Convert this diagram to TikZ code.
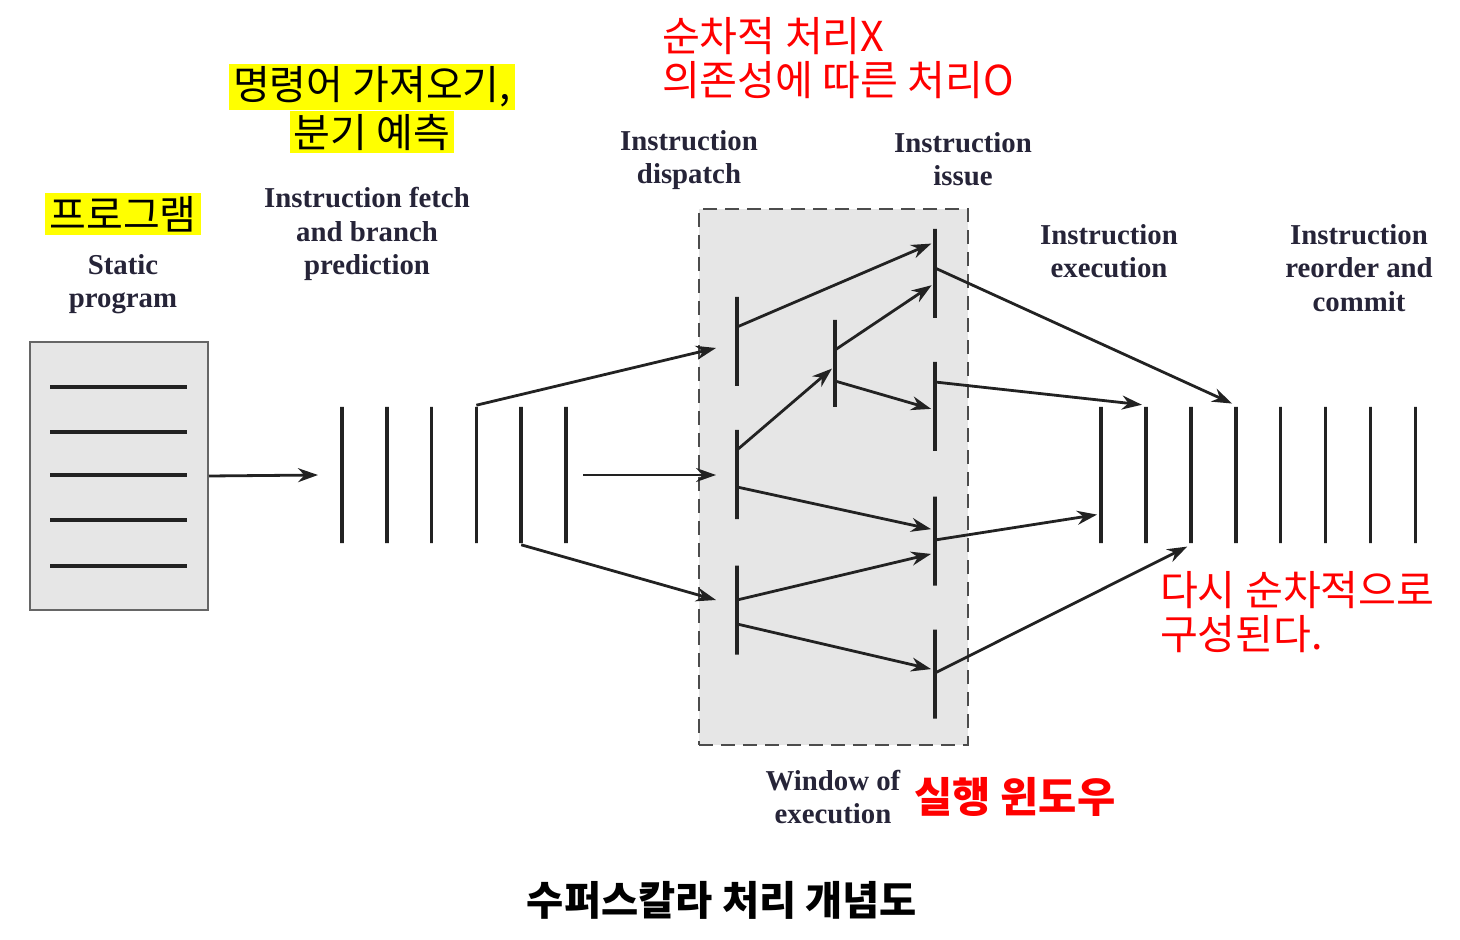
\documentclass[tikz,border=0pt]{standalone}
\usepackage{fontspec}
\setmainfont{Liberation Serif}
\newfontfamily\kr{Noto Sans CJK KR}
\usetikzlibrary{arrows.meta,positioning,calc}
\definecolor{linec}{RGB}{34,34,34}
\definecolor{labelc}{RGB}{38,36,56}
\definecolor{shade}{RGB}{230,230,230}
\definecolor{krred}{RGB}{255,0,0}
\definecolor{hilite}{RGB}{255,255,0}

\begin{document}
\begin{tikzpicture}[x=0.5pt, y=-0.5pt,
  bar/.style={draw=linec, line width=1.8pt, minimum width=0pt,
              minimum height=#1, inner sep=0pt},
  arr/.style={-{Stealth[length=10pt,width=7pt]}, line width=1.4pt, linec},
  lbl/.style={font=\fontsize{14.4}{16.8}\selectfont\bfseries,
              align=center, text=labelc},
  note/.style={font=\fontsize{20.6}{22}\selectfont\kr, align=left, text=krred},
  tag/.style={font=\fontsize{20}{22}\selectfont\kr, fill=hilite,
              inner xsep=2pt, inner ysep=1.5pt}
]
  \useasboundingbox (0,0) rectangle (1460,940);

  % static program
  \node[draw=gray!80!black, line width=1pt, fill=shade,
        minimum width=89pt, minimum height=134pt] (prog) at (119,476) {};
  \foreach \y in {387,432,475,520,566}
    \draw[line width=1.8pt, linec] (50,\y) -- (187,\y);

  % window of execution
  \node[draw=gray!60!black, line width=1pt, dash pattern=on 7pt off 4pt,
        fill=shade, minimum width=134.5pt, minimum height=268pt] (win) at (833.5,477) {};

  % instruction bars
  \foreach \i in {1,...,6}
    \node[bar=68pt] (f\i) at ({342+44.8*(\i-1)},475) {};
  \foreach \i in {1,...,8}
    \node[bar=68pt] (e\i) at ({1101+44.9*(\i-1)},475) {};
  \node[bar=44.5pt] (d1) at (737,341.5) {};
  \node[bar=44.5pt] (d2) at (737,474.5) {};
  \node[bar=44.5pt] (d3) at (737,610) {};
  \node[bar=43.5pt] (m) at (835,363.5) {};
  \node[bar=44.5pt] (i1) at (935,273.5) {};
  \node[bar=44.5pt] (i2) at (935,406.5) {};
  \node[bar=44.5pt] (i3) at (935,541) {};
  \node[bar=44.5pt] (i4) at (935,674) {};

  % free ends
  \coordinate (fin) at (318,475);
  \coordinate (fout) at (583,475);
  \coordinate (din1) at (716,348);
  \coordinate (din2) at (716,475);
  \coordinate (din3) at (716,600);

  % fetch and dispatch
  \draw[arr] (prog.east) -- (fin);
  \draw[arr] (f4.north) -- (din1);
  \draw[arr] (fout) -- (din2);
  \draw[arr] (f5.south) -- (din3);

  % issue
  \draw[arr, shorten >=2pt] (d1.center |- 0,327) -- (i1.center |- 0,242);
  \draw[arr, shorten >=2pt] (d2.center |- 0,450) -- (m.center |- 0,366);
  \draw[arr, shorten >=2pt] (m.center |- 0,350) -- (i1.center |- 0,283);
  \draw[arr, shorten >=2pt] (m.center |- 0,381) -- (i2.center |- 0,410);
  \draw[arr, shorten >=2pt] (d2.center |- 0,487) -- (i3.center |- 0,530);
  \draw[arr, shorten >=2pt] (d3.center |- 0,600) -- (i3.center |- 0,553);
  \draw[arr, shorten >=2pt] (d3.center |- 0,624) -- (i4.center |- 0,670);

  % execution and commit
  \draw[arr, shorten >=2pt] (i1.center |- 0,268) -- (e4.north);
  \draw[arr, shorten >=2pt] (i2.center |- 0,382) -- (e2.north);
  \draw[arr, shorten >=2pt] (i3.center |- 0,540) -- (e1.center |- 0,514);
  \draw[arr, shorten >=2pt] (i4.center |- 0,673) -- (e3.south);

  % labels
  \node[tag] (progkr) at (123,214) {프로그램};
  \node[lbl] (static) at (123,284) {Static\\program};
  \node[tag] (fetchkr1) at (372,87) {명령어 가져오기,};
  \node[tag, below=0pt of fetchkr1] (fetchkr2) {분기 예측};
  \node[lbl] (fetch) at (367,234) {Instruction fetch\\and branch\\prediction};
  \node[lbl] (disp) at (689,160) {Instruction\\dispatch};
  \node[lbl] (issue) at (963,159) {Instruction\\issue};
  \node[lbl] (exec) at (1109,251) {Instruction\\execution};
  \node[lbl] (commit) at (1359,268) {Instruction\\reorder and\\commit};
  \node[note, anchor=west] (ordnote) at (655,58) {순차적 처리X\\의존성에 따른 처리O};
  \node[note, anchor=west] (reordnote) at (1153,612) {다시 순차적으로\\구성된다.};
  \node[lbl] (winlbl) at (833,797) {Window of\\execution};
  \node[note, font=\fontsize{20.8}{22}\selectfont\kr\bfseries,
        right=0pt of winlbl] (winkr) {실행 윈도우};
  \node[font=\fontsize{20.2}{22}\selectfont\kr\bfseries] (title) at (722,900)
    {수퍼스칼라 처리 개념도};
\end{tikzpicture}
\end{document}
